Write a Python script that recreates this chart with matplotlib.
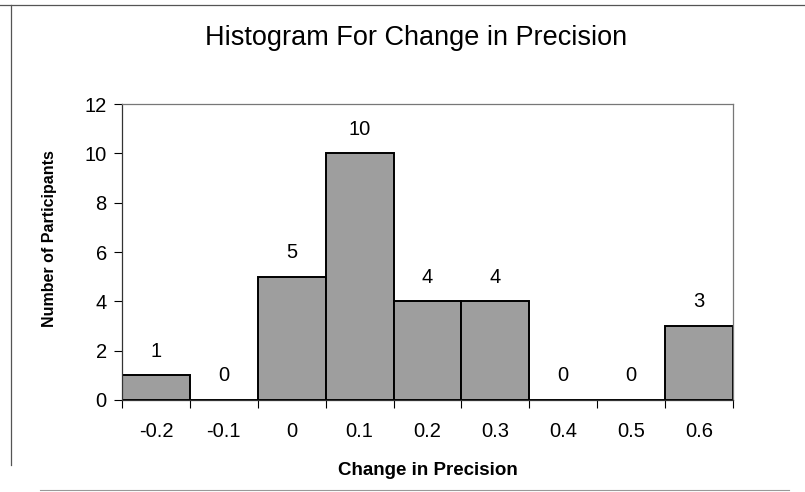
import numpy as np
import matplotlib.pyplot as plt
from matplotlib.lines import Line2D

plt.rcParams['font.family'] = ['Liberation Sans', 'DejaVu Sans']

# bins and counts
bins = ['-0.2', '-0.1', '0', '0.1', '0.2', '0.3', '0.4', '0.5', '0.6']
counts = [1, 0, 5, 10, 4, 4, 0, 0, 3]
yticks = [0, 2, 4, 6, 8, 10, 12]

fig = plt.figure(figsize=(8.05, 4.92), dpi=100)
ax = fig.add_axes([0.1516, 0.187, 0.759, 0.6016])

x = np.arange(len(bins))
ax.bar(x, counts, width=1.0, color='#9e9e9e', edgecolor='black', linewidth=1.4, zorder=2)

# value labels above each bar
for xi, c in zip(x, counts):
    ax.annotate(str(c), (xi, c), xytext=(0, 17.5), textcoords='offset points',
                ha='center', va='center', fontsize=14.5)

ax.set_xlim(-0.5, len(bins) - 0.5)
ax.set_ylim(0, 12)
ax.set_yticks(yticks)
ax.set_yticklabels([str(t) for t in yticks], fontsize=14.5)

# labels sit at bin centres, tick marks at bin edges
ax.set_xticks(x)
ax.set_xticklabels(bins, fontsize=14.5)
ax.tick_params(axis='x', which='major', length=0, pad=16)
ax.set_xticks(np.arange(len(bins) + 1) - 0.5, minor=True)
ax.tick_params(axis='x', which='minor', length=6, direction='out', width=0.8)
ax.tick_params(axis='y', length=6, direction='out', width=0.8, pad=5)

for s in ['top', 'right']:
    ax.spines[s].set_color('#777777')
    ax.spines[s].set_linewidth(0.9)
ax.spines['left'].set_color('#333333')
ax.spines['left'].set_linewidth(0.9)
ax.spines['bottom'].set_color('#333333')
ax.spines['bottom'].set_linewidth(0.9)

ax.set_xlabel('Change in Precision', fontsize=13.5, fontweight='bold', labelpad=15)
ax.set_ylabel('Number of Participants', fontsize=11.5, fontweight='bold')
ax.yaxis.set_label_coords(-0.107, 0.545)

fig.text(0.517, 0.923, 'Histogram For Change in Precision', ha='center', va='center', fontsize=19.5)

# outer chart border
fig.add_artist(Line2D([0.0, 1.0], [0.99, 0.99], color='#555555', linewidth=0.9, transform=fig.transFigure))
fig.add_artist(Line2D([0.0137, 0.0137], [0.99, 0.055], color='#555555', linewidth=0.9, transform=fig.transFigure))
fig.add_artist(Line2D([0.05, 0.98], [0.004, 0.004], color='#999999', linewidth=0.8, transform=fig.transFigure))

fig.savefig('out.png', dpi=100)
